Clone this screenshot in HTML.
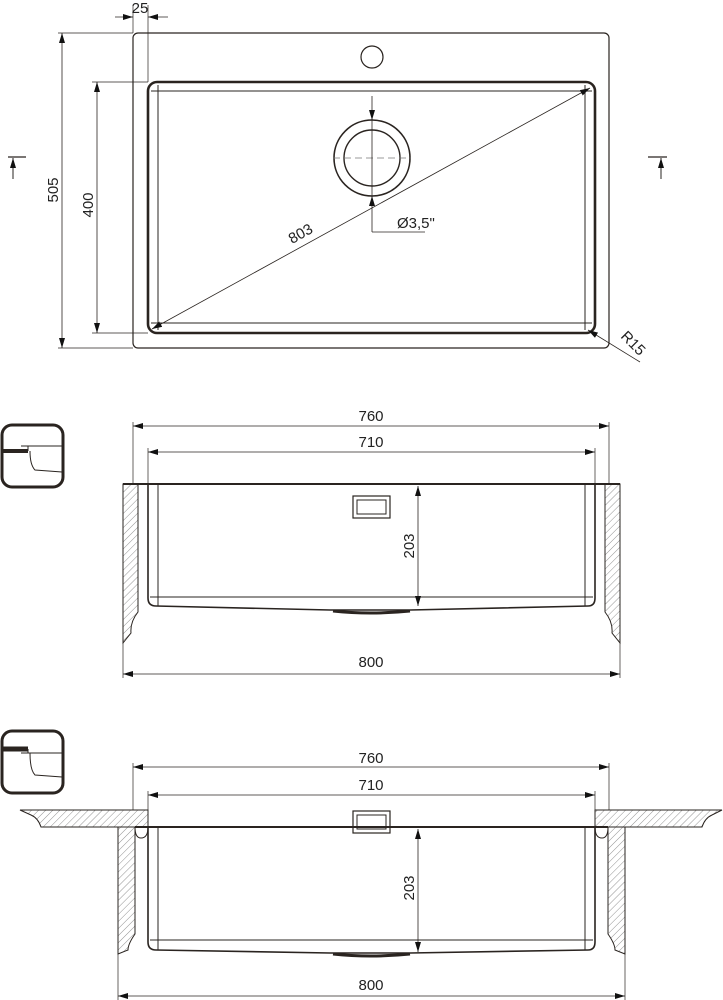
<!DOCTYPE html>
<html><head><meta charset="utf-8"><style>
html,body{margin:0;padding:0;background:#fff}
svg{display:block}
text{font-family:"Liberation Sans Narrow","Liberation Sans",sans-serif;font-size:15px;fill:#222}
</style></head><body>
<svg width="723" height="1000" viewBox="0 0 723 1000" xmlns="http://www.w3.org/2000/svg">
<defs>
<pattern id="h" patternUnits="userSpaceOnUse" width="5" height="5" patternTransform="rotate(45)">
<line x1="0" y1="0" x2="0" y2="5" stroke="#777" stroke-width="0.8"/>
</pattern>
<marker id="a" viewBox="0 0 10 6" refX="10" refY="3" markerWidth="10" markerHeight="6" markerUnits="userSpaceOnUse" orient="auto-start-reverse">
<path d="M0,0L10,3L0,6z" fill="#111"/>
</marker>
</defs>
<g fill="none" stroke="#2a2420">
<!-- TOP VIEW -->
<rect x="133" y="33" width="476" height="315" rx="5" stroke-width="1.2"/>
<rect x="148" y="82" width="447" height="251" rx="9" stroke-width="2.6"/>
<line x1="158" y1="85" x2="158" y2="330" stroke-width="1"/>
<line x1="585" y1="85" x2="585" y2="330" stroke-width="1"/>
<line x1="151" y1="91" x2="592" y2="91" stroke-width="1"/>
<line x1="151" y1="323" x2="592" y2="323" stroke-width="1"/>
<circle cx="372" cy="57" r="11" stroke-width="1.2"/>
<circle cx="372" cy="158" r="38" stroke-width="1.6"/>
<circle cx="372" cy="158" r="28" stroke-width="1.4"/>
<line x1="333" y1="158" x2="411" y2="158" stroke-width="0.8" stroke-dasharray="7,4" stroke="#777"/>
<line x1="372" y1="96" x2="372" y2="120" stroke-width="0.8" marker-end="url(#a)"/>
<line x1="372" y1="120" x2="372" y2="196" stroke-width="0.8"/>
<line x1="372" y1="232" x2="372" y2="196" stroke-width="0.8" marker-end="url(#a)"/>
<line x1="372" y1="232" x2="425" y2="232" stroke-width="0.8"/>
<line x1="152" y1="329" x2="590" y2="88" stroke-width="0.8" marker-start="url(#a)" marker-end="url(#a)"/>
<!-- 25 -->
<line x1="133" y1="5" x2="133" y2="33" stroke-width="0.7"/>
<line x1="148" y1="5" x2="148" y2="82" stroke-width="0.7"/>
<line x1="115" y1="17" x2="133" y2="17" stroke-width="0.8" marker-end="url(#a)"/>
<line x1="168" y1="17" x2="148" y2="17" stroke-width="0.8" marker-end="url(#a)"/>
<!-- 505 -->
<line x1="58" y1="33" x2="133" y2="33" stroke-width="0.7"/>
<line x1="58" y1="348" x2="133" y2="348" stroke-width="0.7"/>
<line x1="62" y1="33" x2="62" y2="348" stroke-width="0.8" marker-start="url(#a)" marker-end="url(#a)"/>
<!-- 400 -->
<line x1="92" y1="82" x2="148" y2="82" stroke-width="0.7"/>
<line x1="92" y1="333" x2="148" y2="333" stroke-width="0.7"/>
<line x1="97" y1="82" x2="97" y2="333" stroke-width="0.8" marker-start="url(#a)" marker-end="url(#a)"/>
<!-- section markers -->
<line x1="8" y1="157" x2="26" y2="157" stroke-width="1.2"/>
<line x1="13" y1="179" x2="13" y2="158" stroke-width="1" marker-end="url(#a)"/>
<line x1="648" y1="157" x2="667" y2="157" stroke-width="1.2"/>
<line x1="661" y1="179" x2="661" y2="158" stroke-width="1" marker-end="url(#a)"/>
<!-- R15 -->
<line x1="640" y1="362" x2="588" y2="330" stroke-width="0.8" marker-end="url(#a)"/>

<!-- SECTION 1 -->
<rect x="2" y="425" width="61" height="62" rx="10" stroke-width="3"/>
<path d="M2 451H28" stroke-width="4"/>
<path d="M21 446H62M28 446V451 M30 451 Q30 465 35 470 L62 472" stroke-width="1"/>
<line x1="133" y1="422" x2="133" y2="484" stroke-width="0.7"/>
<line x1="609" y1="422" x2="609" y2="484" stroke-width="0.7"/>
<line x1="133" y1="426" x2="609" y2="426" stroke-width="0.8" marker-start="url(#a)" marker-end="url(#a)"/>
<line x1="148" y1="448" x2="148" y2="484" stroke-width="0.7"/>
<line x1="595" y1="448" x2="595" y2="484" stroke-width="0.7"/>
<line x1="148" y1="452" x2="595" y2="452" stroke-width="0.8" marker-start="url(#a)" marker-end="url(#a)"/>
<path d="M123 484H138V612 Q130 622 131 633 L123 643Z" fill="url(#h)" stroke-width="1"/>
<path d="M620 484H605V612 Q613 622 612 633 L620 643Z" fill="url(#h)" stroke-width="1"/>
<line x1="123" y1="484" x2="620" y2="484" stroke-width="2"/>
<path d="M148 484V598 Q148 606 156 606 L330 610 L410 610 L588 606 Q595 606 595 598 V484" stroke-width="1.6"/>
<line x1="158" y1="484" x2="158" y2="606" stroke-width="1"/>
<line x1="585" y1="484" x2="585" y2="606" stroke-width="1"/>
<line x1="150" y1="597" x2="593" y2="597" stroke-width="1"/>
<path d="M333 611 Q370 615 410 611" stroke-width="3"/>
<rect x="353" y="496" width="37" height="22" stroke-width="1.2"/>
<rect x="357" y="500" width="29" height="14" stroke-width="1"/>
<line x1="418" y1="486" x2="418" y2="606" stroke-width="0.8" marker-start="url(#a)" marker-end="url(#a)"/>
<line x1="123" y1="643" x2="123" y2="678" stroke-width="0.7"/>
<line x1="620" y1="643" x2="620" y2="678" stroke-width="0.7"/>
<line x1="123" y1="674" x2="620" y2="674" stroke-width="0.8" marker-start="url(#a)" marker-end="url(#a)"/>

<!-- SECTION 2 -->
<rect x="2" y="731" width="61" height="62" rx="10" stroke-width="3"/>
<path d="M2 749H28" stroke-width="5"/>
<path d="M21 753H62M28 749V753 M30 753 Q30 770 35 775 L62 777" stroke-width="1"/>
<line x1="133" y1="763" x2="133" y2="810" stroke-width="0.7"/>
<line x1="609" y1="763" x2="609" y2="810" stroke-width="0.7"/>
<line x1="133" y1="767" x2="609" y2="767" stroke-width="0.8" marker-start="url(#a)" marker-end="url(#a)"/>
<line x1="148" y1="791" x2="148" y2="810" stroke-width="0.7"/>
<line x1="595" y1="791" x2="595" y2="810" stroke-width="0.7"/>
<line x1="148" y1="795" x2="595" y2="795" stroke-width="0.8" marker-start="url(#a)" marker-end="url(#a)"/>
<path d="M20 810H148V827H41 Q38 818 31 815 Z" fill="url(#h)" stroke-width="1"/>
<path d="M722 810H595V827H702 Q705 818 712 815 Z" fill="url(#h)" stroke-width="1"/>
<path d="M118 827H135V934 Q128 944 128 950 L118 954Z" fill="url(#h)" stroke-width="1"/>
<path d="M625 827H608V934 Q615 944 615 950 L625 954Z" fill="url(#h)" stroke-width="1"/>
<path d="M135 827 Q135 838 141 838 Q148 838 148 827" fill="#fff" stroke-width="1"/>
<path d="M608 827 Q608 838 602 838 Q595 838 595 827" fill="#fff" stroke-width="1"/>
<line x1="135" y1="827" x2="608" y2="827" stroke-width="2"/>
<path d="M148 827V942 Q148 950 156 950 L330 953 L410 953 L588 950 Q595 950 595 942 V827" stroke-width="1.6"/>
<line x1="158" y1="827" x2="158" y2="950" stroke-width="1"/>
<line x1="585" y1="827" x2="585" y2="950" stroke-width="1"/>
<line x1="150" y1="940" x2="593" y2="940" stroke-width="1"/>
<path d="M333 954 Q370 958 410 954" stroke-width="3"/>
<rect x="353" y="811" width="37" height="22" stroke-width="1.2"/>
<rect x="357" y="815" width="29" height="14" stroke-width="1"/>
<line x1="418" y1="829" x2="418" y2="952" stroke-width="0.8" marker-start="url(#a)" marker-end="url(#a)"/>
<line x1="118" y1="954" x2="118" y2="1000" stroke-width="0.7"/>
<line x1="625" y1="954" x2="625" y2="1000" stroke-width="0.7"/>
<line x1="118" y1="996" x2="625" y2="996" stroke-width="0.8" marker-start="url(#a)" marker-end="url(#a)"/>
</g>
<g>
<text x="140" y="13" text-anchor="middle">25</text>
<text transform="translate(58,190) rotate(-90)" text-anchor="middle">505</text>
<text transform="translate(93,205) rotate(-90)" text-anchor="middle">400</text>
<text transform="translate(303,238) rotate(-29)" text-anchor="middle">803</text>
<text x="397" y="228">Ø3,5"</text>
<text transform="translate(620,337) rotate(45)">R15</text>
<text x="371" y="421" text-anchor="middle">760</text>
<text x="371" y="447" text-anchor="middle">710</text>
<text transform="translate(414,546) rotate(-90)" text-anchor="middle">203</text>
<text x="371" y="667" text-anchor="middle">800</text>
<text x="371" y="763" text-anchor="middle">760</text>
<text x="371" y="790" text-anchor="middle">710</text>
<text transform="translate(414,888) rotate(-90)" text-anchor="middle">203</text>
<text x="371" y="990" text-anchor="middle">800</text>
</g>
</svg>
</body></html>
